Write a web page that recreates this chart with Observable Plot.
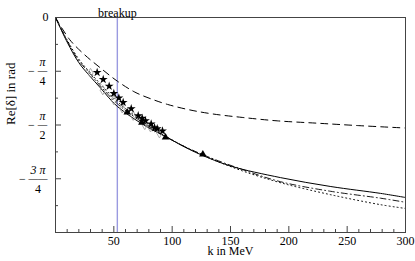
<!DOCTYPE html>
<html><head><meta charset="utf-8">
<script src="https://cdn.jsdelivr.net/npm/d3@7"></script>
<script src="https://cdn.jsdelivr.net/npm/@observablehq/plot@0.6"></script>
<style>
body{margin:0;background:#fff}
#chart svg{background:#fff}
#chart svg, #chart svg text{font-family:"Liberation Serif","Times New Roman",serif !important}
</style>
</head><body><div id="chart"></div>
<script>
const PI = Math.PI;
// curves (k in MeV, Re[delta] in rad)
const solidK = [0, 10, 20, 28.6, 38.6, 53, 78.6, 95.7, 107, 124, 150, 193, 236, 278.6, 300];
const solidD = [0, -0.36, -0.66, -0.84, -1.03, -1.30, -1.60, -1.75, -1.86, -2.0, -2.17, -2.34, -2.47, -2.57, -2.63];
const dashedK = [0, 12, 24, 38, 53, 68, 82, 96, 115, 135, 160, 190, 225, 260, 300];
const dashedD = [0, -0.32, -0.53, -0.73, -0.93, -1.09, -1.19, -1.27, -1.35, -1.41, -1.46, -1.51, -1.545, -1.58, -1.615];
const dashDotK = [0, 10, 20, 30, 40, 53, 70, 90, 110, 130, 160, 193, 236, 278.6, 300];
const dashDotD = [0, -0.34, -0.63, -0.83, -1.03, -1.26, -1.48, -1.70, -1.88, -2.03, -2.22, -2.40, -2.54, -2.64, -2.70];
const dottedK = [0, 10, 20, 30, 40, 53, 70, 90, 110, 130, 160, 193, 236, 278.6, 300];
const dottedD = [0, -0.33, -0.61, -0.81, -1.0, -1.23, -1.46, -1.69, -1.88, -2.04, -2.24, -2.415, -2.59, -2.735, -2.79];
// data points
const starK = [35.7, 40.9, 46.0, 50.0, 54.3, 58.0, 64.9, 70.9, 74.3, 77.1, 82.0, 84.9, 87.2, 91.7];
const starD = [-0.804, -0.906, -1.004, -1.110, -1.174, -1.241, -1.334, -1.436, -1.473, -1.509, -1.556, -1.610, -1.625, -1.658];
const triK = [61.5, 74.0, 94.3, 126.3];
const triD = [-1.386, -1.537, -1.750, -1.998];
const diaK = [30, 40.5, 50, 57.2, 66.6, 76.5, 81.4, 89.1];
const diaD = [-0.81, -1.062, -1.207, -1.328, -1.436, -1.571, -1.604, -1.692];
const breakupK = 53;
// ticks
const xMajor = [50, 100, 150, 200, 250, 300];
const xMinor = [10,20,30,40,60,70,80,90,110,120,130,140,160,170,180,190,210,220,230,240,260,270,280,290];
const yMajor = [-PI/4, -PI/2, -3*PI/4];
const yMinor = [-PI/8, -3*PI/8, -5*PI/8, -7*PI/8];
const yNum = ["π", "π", "3 π"];
const yDen = ["4", "2", "4"];

const FONT = "Liberation Serif, Times New Roman, serif";
const pts = (ks, ds) => ks.map((k, i) => ({k, d: ds[i]}));
const yLabels = yMajor.map((v, i) => ({v, num: yNum[i], den: yDen[i], long: yNum[i].length > 1}));

const labelMarks = yLabels.flatMap(l => {
  const w = l.long ? 19 : 10;
  return [
    Plot.text([l], {y: "v", frameAnchor: "left", text: "num", dx: -(8 + w/2), dy: -9, fontSize: 12, fontStyle: "italic", textAnchor: "middle", fontFamily: FONT}),
    Plot.text([l], {y: "v", frameAnchor: "left", text: "den", dx: -(8 + w/2), dy: 10, fontSize: 12, textAnchor: "middle", fontFamily: FONT}),
    Plot.text([l], {y: "v", frameAnchor: "left", text: () => l.long ? "――" : "―", dx: -(8 + w/2), dy: 0, fontSize: 9.5, textAnchor: "middle", fontFamily: FONT}),
    Plot.text([l], {y: "v", frameAnchor: "left", text: () => "−", dx: -(8 + w + 6), dy: 0, fontSize: 12, textAnchor: "middle", fontFamily: FONT})
  ];
});

const chart = Plot.plot({
  width: 415, height: 261,
  marginLeft: 55, marginRight: 10, marginTop: 17, marginBottom: 29,
  x: {domain: [0, 300]},
  y: {domain: [-PI, 0]},
  style: {fontFamily: FONT, fontSize: "12px", color: "#000"},
  marks: [
    Plot.ruleX([breakupK], {stroke: "#9a9ae0", strokeWidth: 1.4}),
    Plot.line(pts(dashedK, dashedD), {x: "k", y: "d", curve: "catmull-rom", stroke: "#000", strokeWidth: 1, strokeDasharray: "7,5"}),
    Plot.line(pts(solidK, solidD), {x: "k", y: "d", curve: "catmull-rom", stroke: "#000", strokeWidth: 1}),
    Plot.line(pts(dashDotK, dashDotD), {x: "k", y: "d", curve: "catmull-rom", stroke: "#000", strokeWidth: 0.9, strokeDasharray: "6,3,1,3"}),
    Plot.line(pts(dottedK, dottedD), {x: "k", y: "d", curve: "catmull-rom", stroke: "#000", strokeWidth: 1, strokeDasharray: "1,3"}),
    Plot.dot(pts(diaK, diaD), {x: "k", y: "d", symbol: "diamond", r: 2.8, stroke: "#999", fill: "none", strokeWidth: 0.8}),
    Plot.dot(pts(starK, starD), {x: "k", y: "d", symbol: "star", r: 2.8, fill: "#000", stroke: "none"}),
    Plot.dot(pts(triK, triD), {x: "k", y: "d", symbol: "triangle", r: 2.8, fill: "#000", stroke: "none"}),
    Plot.frame({stroke: "#444"}),
    Plot.axisX(xMinor, {tickSize: -3, tickFormat: () => "", label: null, stroke: "#444"}),
    Plot.axisX(xMajor, {tickSize: -6, tickFormat: () => "", label: null, stroke: "#444"}),
    Plot.axisX(xMajor, {tickSize: 0, tickPadding: 4, label: null, fontSize: 12, fontFamily: FONT}),
    Plot.axisY(yMinor, {tickSize: -3, tickFormat: () => "", label: null, stroke: "#444"}),
    Plot.axisY(yMajor, {tickSize: -6, tickFormat: () => "", label: null, stroke: "#444"}),
    Plot.text([0], {y: d => d, frameAnchor: "left", text: () => "0", dx: -10, fontSize: 12, textAnchor: "middle", fontFamily: FONT}),
    ...labelMarks,
    Plot.text(["breakup"], {x: () => breakupK, frameAnchor: "top", text: d => d, dy: -9, fontSize: 12, fontFamily: FONT}),
    Plot.text(["k in MeV"], {frameAnchor: "bottom", text: d => d, dy: 22, fontSize: 12, fontFamily: FONT}),
    Plot.text(["Re[δ] in rad"], {frameAnchor: "left", text: d => d, dx: -45, rotate: -90, fontSize: 13, fontFamily: FONT})
  ]
});
document.getElementById("chart").append(chart);
</script>
</body></html>
